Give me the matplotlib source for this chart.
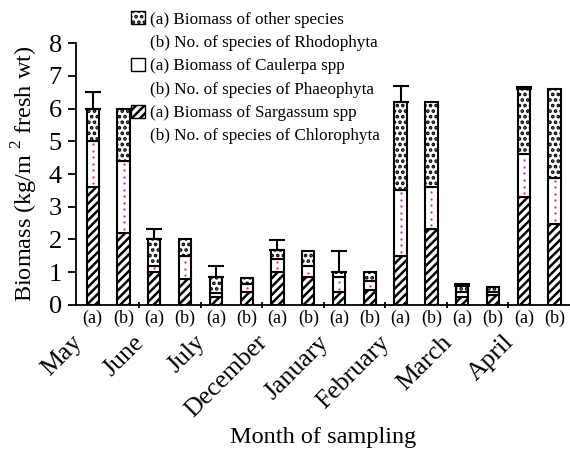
import numpy as np
import matplotlib
matplotlib.use("Agg")
import matplotlib.pyplot as plt
from matplotlib.patches import Patch

plt.rcParams['font.family'] = ['Liberation Serif', 'DejaVu Serif']
plt.rcParams['hatch.linewidth'] = 1.8
plt.rcParams['mathtext.fontset'] = 'custom'
plt.rcParams['mathtext.rm'] = 'Liberation Serif'

months = ['May', 'June', 'July', 'December', 'January', 'February', 'March', 'April']
# bars go (a), (b) for each month
lower = [3.6, 2.2, 1.0, 0.78, 0.25, 0.4, 1.0, 0.85, 0.38, 0.45, 1.5, 2.32, 0.25, 0.3, 3.3, 2.48]
middle = [1.4, 2.2, 0.2, 0.72, 0.1, 0.23, 0.4, 0.35, 0.47, 0.27, 2.0, 1.3, 0.15, 0.1, 1.3, 1.4]
upper = [1.0, 1.6, 0.82, 0.5, 0.5, 0.2, 0.28, 0.45, 0.17, 0.28, 2.7, 2.58, 0.17, 0.15, 2.0, 2.72]
err_top = [6.5, 2.33, 1.2, 1.97, 1.65, 6.7, 0.64, 6.65]  # upper end of error bar, (a) bars only
sub_labels = ['(a)', '(b)']

legend_labels = ['(a) Biomass of other species',
                 '(b) No. of species of Rhodophyta',
                 '(a) Biomass of Caulerpa spp',
                 '(b) No. of species of Phaeophyta',
                 '(a) Biomass of Sargassum spp',
                 '(b) No. of species of Chlorophyta']

lower = np.array(lower)
middle = np.array(middle)
upper = np.array(upper)
x = np.arange(len(lower))
w = 0.4

fig = plt.figure(figsize=(5.7, 4.51), dpi=100)
ax = fig.add_axes([0.133, 0.324, 0.867, 0.58])

ax.bar(x, lower, w, color='white', edgecolor='black', hatch='////', linewidth=1.5, zorder=2)
ax.bar(x, middle, w, bottom=lower, color='white', edgecolor='black', linewidth=1.5, zorder=2)
ax.bar(x, upper, w, bottom=lower + middle, color='white', edgecolor='black', hatch='...',
       linewidth=1.5, zorder=2)

# pink dots down the middle segment
for xi, b, h in zip(x, lower, middle):
    ys = np.arange(b + 0.12, b + h - 0.05, 0.2)
    ax.scatter(np.full(len(ys), xi), ys, s=3, color='#e23a9a', zorder=3, linewidths=0)

xa = x[::2]
tops = (lower + middle + upper)[::2]
ax.errorbar(xa, tops, yerr=[np.zeros(len(xa)), np.array(err_top) - tops], fmt='none',
            ecolor='black', elinewidth=1.5, capsize=6, capthick=1.5, zorder=4)

ax.set_xlim(-0.55, 15.5)
ax.set_ylim(0, 8)
ax.set_yticks(range(9))
ax.tick_params(axis='y', labelsize=19, width=1.3, length=6, pad=4)
ax.set_xticks(np.arange(1.5, 15, 2))
ax.tick_params(axis='x', labelbottom=False, width=1.3, length=5, direction='inout')
for s in ['top', 'right']:
    ax.spines[s].set_visible(False)
for s in ['left', 'bottom']:
    ax.spines[s].set_linewidth(1.3)

for xi in x:
    ax.text(xi, -0.15, sub_labels[xi % 2], ha='center', va='top', fontsize=13)

for i, m in enumerate(months):
    ax.text(2 * i - 0.45, -1.05, m, rotation=45, rotation_mode='anchor', ha='right',
            va='center', fontsize=18.5)

ax.set_ylabel('Biomass (kg/m$^{\\ 2}$ fresh wt)', fontsize=17.5, labelpad=6)
fig.text(0.567, 0.03, 'Month of sampling', ha='center', va='center', fontsize=17.5)

handles = [Patch(facecolor='white', edgecolor='black', hatch='...'),
           Patch(facecolor='none', edgecolor='none'),
           Patch(facecolor='white', edgecolor='black'),
           Patch(facecolor='none', edgecolor='none'),
           Patch(facecolor='white', edgecolor='black', hatch='////'),
           Patch(facecolor='none', edgecolor='none')]
fig.legend(handles, legend_labels, loc='upper left', bbox_to_anchor=(0.218, 0.99),
           frameon=False, fontsize=12.3, handlelength=0.8, handleheight=0.8,
           handletextpad=0.3, labelspacing=0.4, borderaxespad=0)

fig.savefig('out.png', dpi=100)
